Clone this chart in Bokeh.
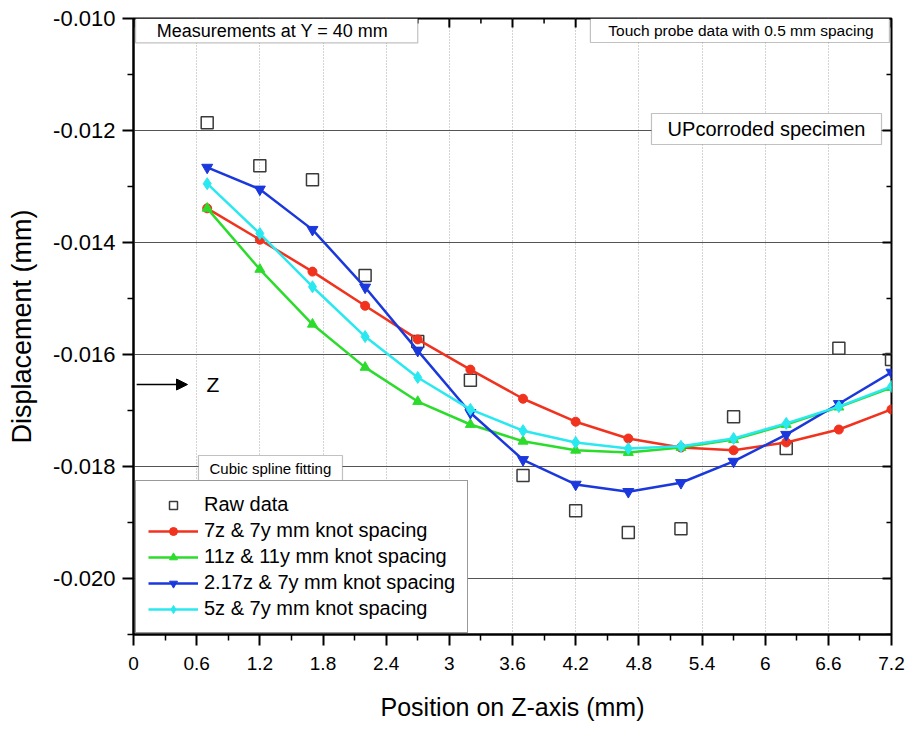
from bokeh.plotting import figure
from bokeh.models import (Range1d, FixedTicker, PrintfTickFormatter, Legend,
                          LegendItem, Label, BoxAnnotation, Arrow, NormalHead)
from bokeh.embed import file_html
from bokeh.resources import INLINE

# ---------------- data ----------------
z_pos = [0.7, 1.2, 1.7, 2.2, 2.7, 3.2, 3.7, 4.2, 4.7, 5.2, 5.7, 6.2, 6.7, 7.2]
raw_data = [-0.01186, -0.01263, -0.01288, -0.01459, -0.01577, -0.01646, -0.01816,
            -0.01879, -0.01918, -0.01911, -0.01711, -0.01768, -0.01589, -0.01609]
fit_7z_7y = [-0.01339, -0.01395, -0.01452, -0.01513, -0.01573, -0.01627, -0.01679,
             -0.01720, -0.01750, -0.01766, -0.01771, -0.01757, -0.01734, -0.01698]
fit_11z_11y = [-0.01339, -0.01448, -0.01546, -0.01623, -0.01684, -0.01725, -0.01755,
               -0.01771, -0.01775, -0.01766, -0.01752, -0.01725, -0.01694, -0.01659]
fit_217z_7y = [-0.01266, -0.01305, -0.01377, -0.01480, -0.01593, -0.01704, -0.01788,
               -0.01832, -0.01845, -0.01829, -0.01791, -0.01743, -0.01688, -0.01632]
fit_5z_7y = [-0.01295, -0.01384, -0.01479, -0.01568, -0.01641, -0.01698, -0.01736,
             -0.01757, -0.01768, -0.01764, -0.01750, -0.01723, -0.01693, -0.01657]

series_names = ["Raw data", "7z & 7y mm knot spacing", "11z & 11y mm knot spacing",
                "2.17z & 7y mm knot spacing", "5z & 7y mm knot spacing"]

x_ticks = [0, 0.6, 1.2, 1.8, 2.4, 3, 3.6, 4.2, 4.8, 5.4, 6, 6.6, 7.2]
x_tick_labels = ["0", "0.6", "1.2", "1.8", "2.4", "3", "3.6", "4.2", "4.8", "5.4", "6", "6.6", "7.2"]
x_minor = [0.3, 0.9, 1.5, 2.1, 2.7, 3.3, 3.9, 4.5, 5.1, 5.7, 6.3, 6.9]
y_ticks = [-0.020, -0.018, -0.016, -0.014, -0.012, -0.010]
y_minor = [-0.021, -0.019, -0.017, -0.015, -0.013, -0.011]

X0, X1, Y0, Y1 = 0, 7.2, -0.021, -0.010
FRAME_W, FRAME_H = 758, 616          # frame size in px (907-133-16, 729-18-95)
PX_X = (X1 - X0) / FRAME_W           # data units per px
PX_Y = (Y1 - Y0) / FRAME_H

FONT = "Liberation Sans"
RED, GREEN, BLUE, CYAN = "#f0321e", "#2cdc2c", "#1a38dc", "#2ae8f0"

p = figure(width=907, height=729, x_range=Range1d(X0, X1), y_range=Range1d(Y0, Y1),
           output_backend="svg", toolbar_location=None,
           min_border_left=133, min_border_right=16, min_border_top=18, min_border_bottom=95)
p.outline_line_color = "black"
p.outline_line_width = 2
p.background_fill_color = "white"
p.border_fill_color = "white"

xt = FixedTicker(ticks=x_ticks, minor_ticks=x_minor)
yt = FixedTicker(ticks=y_ticks, minor_ticks=y_minor)

xa = p.xaxis[0]
xa.ticker = xt
xa.major_label_overrides = {t: l for t, l in zip(x_ticks, x_tick_labels)}
xa.axis_label = "Position on Z-axis (mm)"
ya = p.yaxis[0]
ya.ticker = yt
ya.formatter = PrintfTickFormatter(format="%.3f")
ya.axis_label = "Displacement (mm)"

for ax, lf, tf in ((xa, "19px", "25px"), (ya, "22px", "27px")):
    ax.axis_line_width = 2
    ax.axis_line_color = "black"
    ax.major_tick_line_width = 2
    ax.minor_tick_line_width = 1.5
    ax.major_tick_out = 11
    ax.major_tick_in = 0
    ax.minor_tick_out = 6
    ax.minor_tick_in = 0
    ax.major_label_text_font = FONT
    ax.major_label_text_font_size = lf
    ax.major_label_text_color = "black"
    ax.axis_label_text_font = FONT
    ax.axis_label_text_font_size = tf
    ax.axis_label_text_font_style = "normal"
    ax.axis_label_text_color = "black"
xa.major_label_standoff = 11
xa.axis_label_standoff = 20
ya.major_label_standoff = 7
ya.axis_label_standoff = 13

p.xgrid.ticker = xt
p.xgrid.grid_line_color = "#a8a8a8"
p.xgrid.grid_line_dash = "1 2"
p.xgrid.grid_line_width = 1
p.ygrid.ticker = yt
p.ygrid.grid_line_color = "#555555"
p.ygrid.grid_line_width = 1

# mirrored inward ticks on the top and right frame edges
for ticks, ln, w in ((x_ticks, 9, 2), (x_minor, 5, 1.5)):
    p.segment(x0=ticks, y0=[Y1] * len(ticks), x1=ticks, y1=[Y1 - ln * PX_Y] * len(ticks),
              line_color="black", line_width=w)
for ticks, ln, w in ((y_ticks, 9, 2), (y_minor, 5, 1.5)):
    p.segment(x0=[X1] * len(ticks), y0=ticks, x1=[X1 - ln * PX_X] * len(ticks), y1=ticks,
              line_color="black", line_width=w)

# ---------------- glyphs ----------------
r_raw = p.scatter(z_pos, raw_data, marker="square", size=12, fill_color=None,
                  line_color="#3a3a3a", line_width=1.5)
items = [LegendItem(label=series_names[0], renderers=[r_raw])]
for ys, col, mk, sz, name in ((fit_7z_7y, RED, "circle", 9, series_names[1]),
                              (fit_11z_11y, GREEN, "triangle", 10, series_names[2]),
                              (fit_217z_7y, BLUE, "inverted_triangle", 11, series_names[3]),
                              (fit_5z_7y, CYAN, "diamond", 12, series_names[4])):
    rl = p.line(z_pos, ys, line_color=col, line_width=2.5)
    rm = p.scatter(z_pos, ys, marker=mk, size=sz, fill_color=col, line_color=col)
    items.append(LegendItem(label=name, renderers=[rl, rm]))

# ---------------- annotations ----------------
def box(l, r, t, b):
    p.add_layout(BoxAnnotation(left=l, right=r, top=t, bottom=b, fill_color="white",
                               fill_alpha=1, line_color="#333333", line_width=1.2))

def label(x, y, text, size):
    p.add_layout(Label(x=x, y=y, text=text, text_align="center", text_baseline="middle",
                       text_font=FONT, text_font_size=size, text_color="black"))

box(0.02, 2.70, -0.010, -0.010436)
label(1.368, -0.010222, "Measurements at  Y  = 40 mm", "18px")
box(4.34, 7.18, -0.010, -0.010429)
label(5.77, -0.010222, "Touch probe data with 0.5 mm spacing", "15.5px")
box(4.92, 7.105, -0.011696, -0.01225)
label(6.013, -0.01197, "UPcorroded specimen", "20px")
box(0.617, 1.985, -0.017804, -0.01825)
label(1.30, -0.018027, "Cubic spline fitting", "15px")

p.add_layout(Arrow(x_start=0.03, y_start=-0.016536, x_end=0.513, y_end=-0.016536,
                   line_color="black", line_width=1.3,
                   end=NormalHead(size=11, fill_color="black", line_color="black")))
label(0.755, -0.016536, "Z", "21px")

legend = Legend(items=items, location=(2, 1), label_text_font=FONT,
                label_text_font_size="20px", label_text_color="black",
                glyph_width=50, glyph_height=20, label_height=20, label_standoff=6,
                spacing=3, padding=12, margin=0, border_line_color="#333333",
                border_line_width=1.2, background_fill_color="white", background_fill_alpha=1)
p.add_layout(legend)

open("out.html", "w").write(file_html(p, INLINE))
